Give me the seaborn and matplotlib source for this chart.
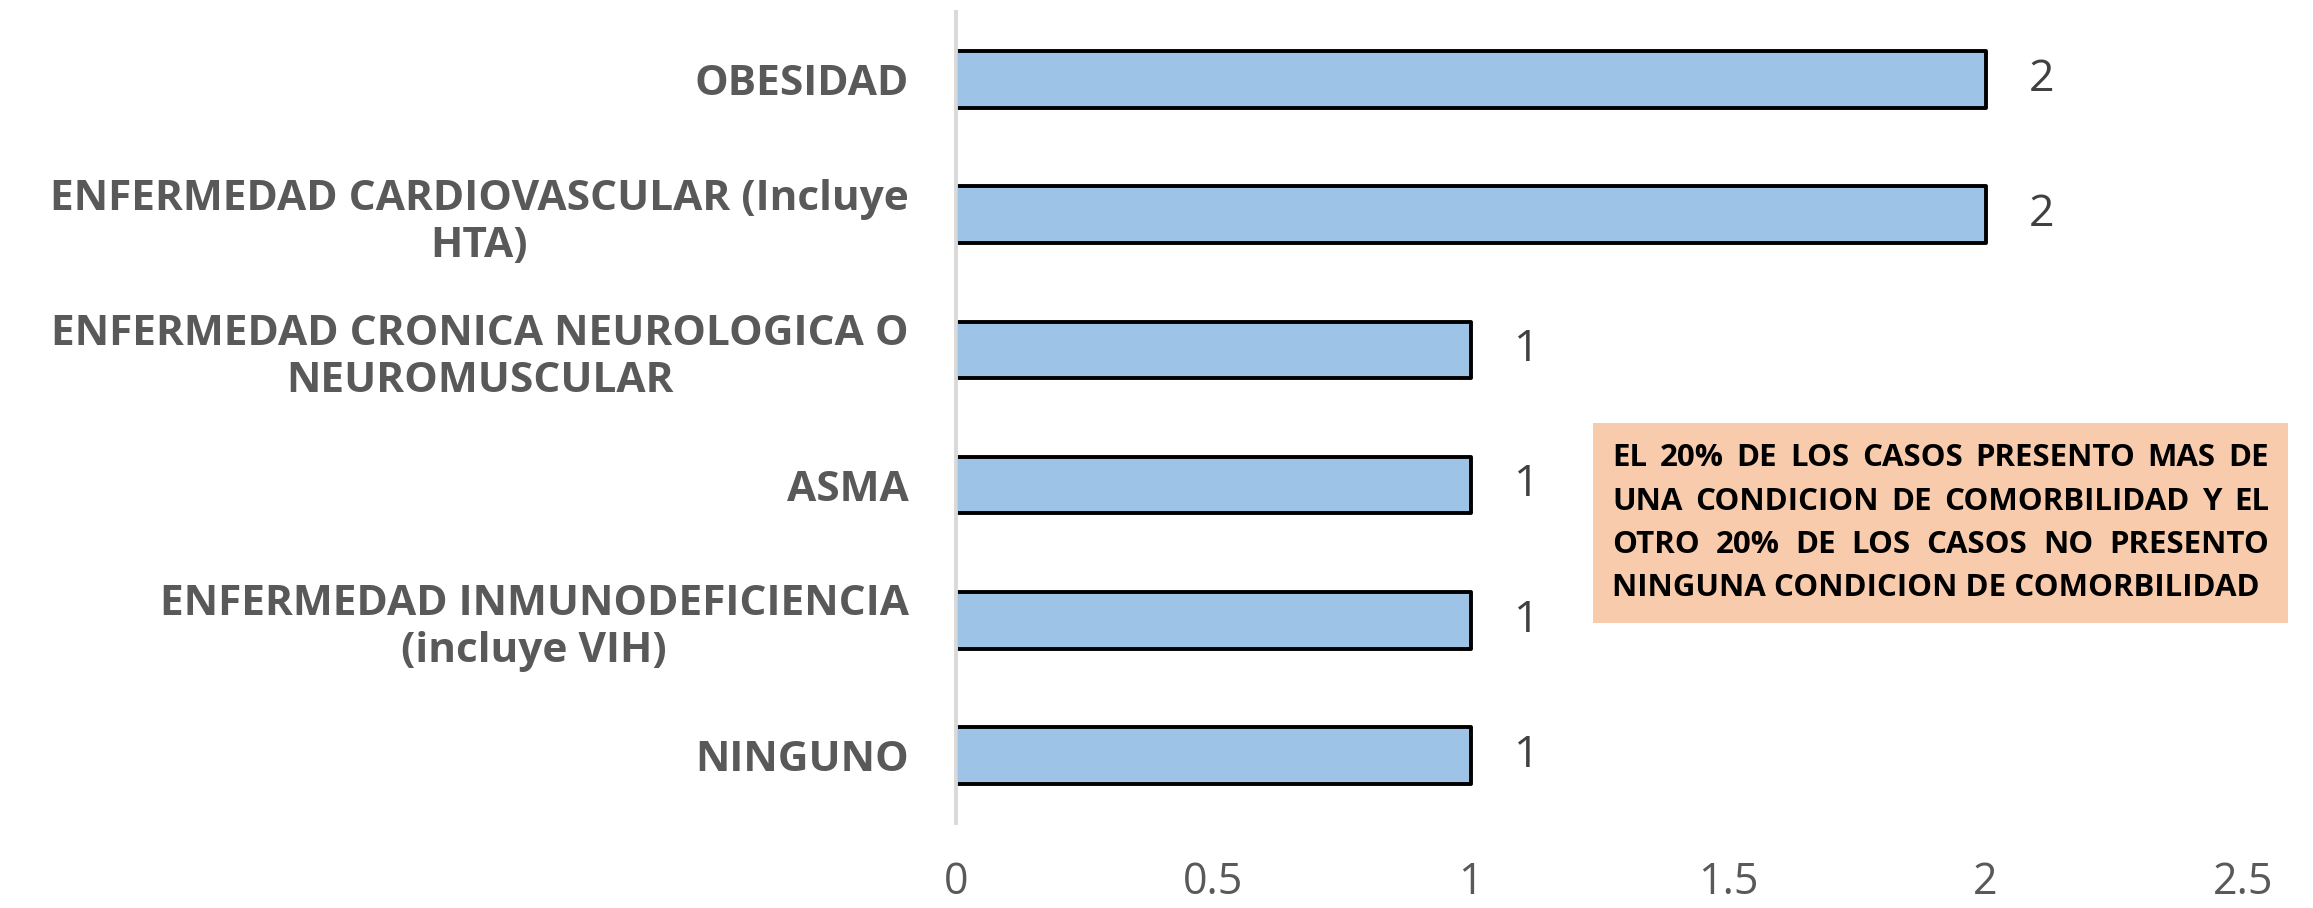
import matplotlib
matplotlib.use("Agg")
import matplotlib.pyplot as plt
import seaborn as sns
from matplotlib.patches import Rectangle

# Data
categories = [
    "OBESIDAD",
    "ENFERMEDAD CARDIOVASCULAR (Incluye\nHTA)",
    "ENFERMEDAD CRONICA NEUROLOGICA O\nNEUROMUSCULAR",
    "ASMA",
    "ENFERMEDAD INMUNODEFICIENCIA\n(incluye VIH)",
    "NINGUNO",
]
values = [2, 2, 1, 1, 1, 1]
x_ticks = [0, 0.5, 1, 1.5, 2, 2.5]
note_lines = [
    "EL 20% DE LOS CASOS PRESENTO MAS DE",
    "UNA CONDICION DE COMORBILIDAD Y EL",
    "OTRO 20% DE LOS CASOS NO PRESENTO",
    "NINGUNA CONDICION DE COMORBILIDAD",
]

sns.set_style("white")
plt.rcParams['font.family'] = ['Open Sans', 'DejaVu Sans']

W, H = 2313, 908
fig = plt.figure(figsize=(W / 100, H / 100), dpi=100)
ax = fig.add_axes([956 / W, 1 - 823 / H, (2243 - 956) / W, (823 - 12) / H])

sns.barplot(x=values, y=categories, orient='h', color='#9DC3E6', saturation=1,
            edgecolor='black', linewidth=2.8, width=0.42, ax=ax)
for p in ax.patches:
    p.set_joinstyle('round')

ax.bar_label(ax.containers[0], padding=31, fontsize=32, color='#404040')

ax.set_xlim(0, 2.5)
ax.set_xticks(x_ticks)
ax.set_xticklabels([f"{t:g}" for t in x_ticks])
ax.tick_params(axis='x', length=0, pad=27, labelsize=31, labelcolor='#595959')
ax.tick_params(axis='y', length=0, pad=34, labelsize=30.5, labelcolor='#595959')
for lab in ax.get_yticklabels():
    lab.set_fontweight('bold')
    lab.set_multialignment('center')

for side in ['top', 'right', 'bottom']:
    ax.spines[side].set_visible(False)
ax.spines['left'].set_color('#D9D9D9')
ax.spines['left'].set_linewidth(2.8)
ax.set_xlabel('')
ax.set_ylabel('')

# Note box
bx0, by0, bx1, by1 = 1593, 423, 2288, 623
fig.add_artist(Rectangle((bx0 / W, 1 - by1 / H), (bx1 - bx0) / W, (by1 - by0) / H,
                         transform=fig.transFigure, facecolor='#F8CBAD',
                         edgecolor='none', zorder=5))

tx0, tx1 = 1612, 2269
line_y0, line_gap = 458, 43.5
fs = 22.5
renderer = fig.canvas.get_renderer()
for i, line in enumerate(note_lines):
    y = 1 - (line_y0 + i * line_gap) / H
    words = line.split()
    if i == len(note_lines) - 1:
        fig.text(tx0 / W, y, line, fontsize=fs, fontweight='bold', color='black',
                 va='center', ha='left', zorder=6)
        continue
    texts = [fig.text(0, y, w, fontsize=fs, fontweight='bold', color='black',
                      va='center', ha='left', zorder=6) for w in words]
    widths = [t.get_window_extent(renderer).width for t in texts]
    gap = ((tx1 - tx0) - sum(widths)) / (len(words) - 1)
    x = tx0
    for t, wd in zip(texts, widths):
        t.set_x(x / W)
        x += wd + gap

fig.savefig('out.png', dpi=100)
